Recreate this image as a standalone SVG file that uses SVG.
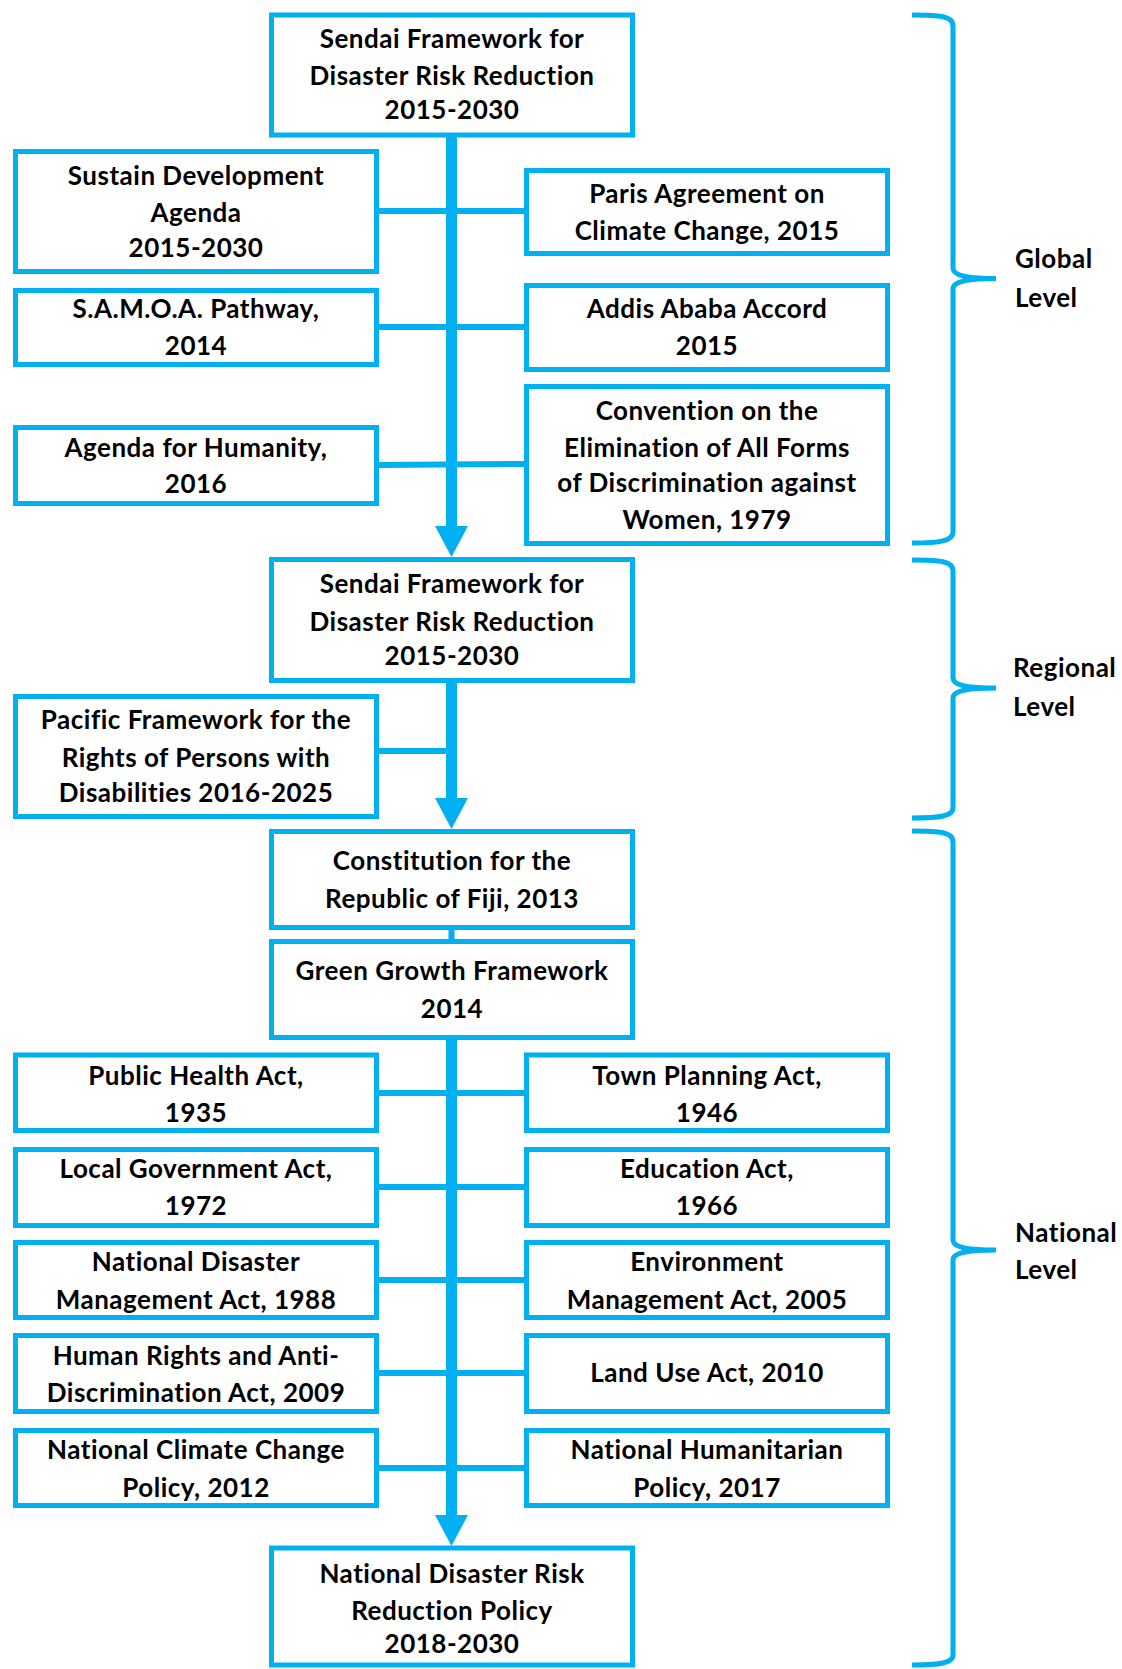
<svg xmlns="http://www.w3.org/2000/svg" width="1122" height="1669" viewBox="0 0 1122 1669">
<style>
.box{fill:#fff;stroke:#00B0F0;stroke-width:5}
.t{font-family:Lato,"Liberation Sans",sans-serif;font-weight:bold;font-size:26px;letter-spacing:0.5px;fill:#000;text-anchor:middle}
.lv{font-family:Lato,"Liberation Sans",sans-serif;font-weight:bold;font-size:26px;letter-spacing:0.5px;fill:#000}
.ln{stroke:#00B0F0;stroke-width:6;fill:none}
.tr{stroke:#00B0F0;stroke-width:11;fill:none}
.hd{fill:#00B0F0}
.br{stroke:#00B0F0;stroke-width:5;fill:none}
</style>
<rect width="1122" height="1669" fill="#fff"/>
<g id="connectors">
<line class="tr" x1="451.5" y1="137" x2="451.5" y2="528"/>
<polygon class="hd" points="435,526 468,526 451.5,557"/>
<line class="tr" x1="451.5" y1="683" x2="451.5" y2="800"/>
<polygon class="hd" points="435,798 468,798 451.5,829"/>
<line class="ln" x1="451.5" y1="930" x2="451.5" y2="939"/>
<line class="tr" x1="451.5" y1="1040" x2="451.5" y2="1517"/>
<polygon class="hd" points="435,1515 468,1515 451.5,1546"/>
<line class="ln" x1="379" y1="211" x2="524" y2="211"/>
<line class="ln" x1="379" y1="327" x2="524" y2="327"/>
<line class="ln" x1="379" y1="465" x2="524" y2="464"/>
<line class="ln" x1="379" y1="751" x2="452" y2="751"/>
<line class="ln" x1="379" y1="1093" x2="524" y2="1093"/>
<line class="ln" x1="379" y1="1187" x2="524" y2="1187"/>
<line class="ln" x1="379" y1="1280" x2="524" y2="1280"/>
<line class="ln" x1="379" y1="1373" x2="524" y2="1373"/>
<line class="ln" x1="379" y1="1468" x2="524" y2="1468"/>
</g>
<g id="sendai-global"><rect class="box" x="271.5" y="15" width="361" height="120"/>
<text class="t" x="452" y="48">Sendai Framework for</text><text class="t" x="452" y="85">Disaster Risk Reduction</text><text class="t" x="452" y="119">2015-2030</text></g>
<g id="sustain"><rect class="box" x="15.5" y="151.5" width="361" height="120"/>
<text class="t" x="196" y="185">Sustain Development</text><text class="t" x="196" y="222">Agenda</text><text class="t" x="196" y="257">2015-2030</text></g>
<g id="paris"><rect class="box" x="526.5" y="170.5" width="361" height="83"/>
<text class="t" x="707" y="203">Paris Agreement on</text><text class="t" x="707" y="240">Climate Change, 2015</text></g>
<g id="samoa"><rect class="box" x="15.5" y="290.5" width="361" height="74"/>
<text class="t" x="196" y="318">S.A.M.O.A. Pathway,</text><text class="t" x="196" y="355">2014</text></g>
<g id="addis"><rect class="box" x="526.5" y="285.5" width="361" height="84"/>
<text class="t" x="707" y="318">Addis Ababa Accord</text><text class="t" x="707" y="355">2015</text></g>
<g id="humanity"><rect class="box" x="15.5" y="427.5" width="361" height="76"/>
<text class="t" x="196" y="457">Agenda for Humanity,</text><text class="t" x="196" y="493">2016</text></g>
<g id="cedaw"><rect class="box" x="526.5" y="386.5" width="361" height="157"/>
<text class="t" x="707" y="419.5">Convention on the</text><text class="t" x="707" y="456.5">Elimination of All Forms</text><text class="t" x="707" y="492">of Discrimination against</text><text class="t" x="707" y="529">Women, 1979</text></g>
<g id="sendai-regional"><rect class="box" x="271.5" y="559.5" width="361" height="121"/>
<text class="t" x="452" y="593">Sendai Framework for</text><text class="t" x="452" y="631">Disaster Risk Reduction</text><text class="t" x="452" y="665">2015-2030</text></g>
<g id="pacific"><rect class="box" x="15.5" y="696.5" width="361" height="120"/>
<text class="t" x="196" y="729">Pacific Framework for the</text><text class="t" x="196" y="767">Rights of Persons with</text><text class="t" x="196" y="802">Disabilities 2016-2025</text></g>
<g id="constitution"><rect class="box" x="271.5" y="831.5" width="361" height="96"/>
<text class="t" x="452" y="870">Constitution for the</text><text class="t" x="452" y="908">Republic of Fiji, 2013</text></g>
<g id="green"><rect class="box" x="271.5" y="941.5" width="361" height="96"/>
<text class="t" x="452" y="980">Green Growth Framework</text><text class="t" x="452" y="1018">2014</text></g>
<g id="public-health"><rect class="box" x="15.5" y="1055" width="361" height="75.5"/>
<text class="t" x="196" y="1085">Public Health Act,</text><text class="t" x="196" y="1122">1935</text></g>
<g id="town-planning"><rect class="box" x="526.5" y="1055" width="361" height="75.5"/>
<text class="t" x="707" y="1085">Town Planning Act,</text><text class="t" x="707" y="1122">1946</text></g>
<g id="local-gov"><rect class="box" x="15.5" y="1149.5" width="361" height="76"/>
<text class="t" x="196" y="1178">Local Government Act,</text><text class="t" x="196" y="1215">1972</text></g>
<g id="education"><rect class="box" x="526.5" y="1149.5" width="361" height="76"/>
<text class="t" x="707" y="1178">Education Act,</text><text class="t" x="707" y="1215">1966</text></g>
<g id="nat-disaster"><rect class="box" x="15.5" y="1242.5" width="361" height="75"/>
<text class="t" x="196" y="1271">National Disaster</text><text class="t" x="196" y="1308.5">Management Act, 1988</text></g>
<g id="environment"><rect class="box" x="526.5" y="1242.5" width="361" height="75"/>
<text class="t" x="707" y="1271">Environment</text><text class="t" x="707" y="1308.5">Management Act, 2005</text></g>
<g id="human-rights"><rect class="box" x="15.5" y="1335.5" width="361" height="76"/>
<text class="t" x="196" y="1364.5">Human Rights and Anti-</text><text class="t" x="196" y="1402">Discrimination Act, 2009</text></g>
<g id="land-use"><rect class="box" x="526.5" y="1335.5" width="361" height="76"/>
<text class="t" x="707" y="1382">Land Use Act, 2010</text></g>
<g id="climate-policy"><rect class="box" x="15.5" y="1430.5" width="361" height="75"/>
<text class="t" x="196" y="1459">National Climate Change</text><text class="t" x="196" y="1496.5">Policy, 2012</text></g>
<g id="humanitarian-policy"><rect class="box" x="526.5" y="1430.5" width="361" height="75"/>
<text class="t" x="707" y="1459">National Humanitarian</text><text class="t" x="707" y="1496.5">Policy, 2017</text></g>
<g id="ndrr"><rect class="box" x="271.5" y="1548" width="361" height="117"/>
<text class="t" x="452" y="1582.5">National Disaster Risk</text><text class="t" x="452" y="1619.5">Reduction Policy</text><text class="t" x="452" y="1653">2018-2030</text></g>
<g id="global-level">
<path class="br" d="M912,15 C940,15 953,16 953,26 L953,268 C953,275 965,278.5 996,278.5 C965,278.5 953,282 953,289 L953,532 C953,541 940,543 912,543"/>
<text class="lv" x="1015" y="268">Global</text><text class="lv" x="1015" y="307">Level</text></g>
<g id="regional-level">
<path class="br" d="M912,560 C940,560 953,561 953,571 L953,678 C953,685 965,688 996,688 C965,688 953,691 953,698 L953,808 C953,816 940,818 912,818"/>
<text class="lv" x="1013" y="677">Regional</text><text class="lv" x="1013" y="716">Level</text></g>
<g id="national-level">
<path class="br" d="M912,831 C940,831 953,832 953,842 L953,1240 C953,1247 965,1250 996,1250 C965,1250 953,1253 953,1260 L953,1655 C953,1663 940,1665 912,1665"/>
<text class="lv" x="1015" y="1241.5">National</text><text class="lv" x="1015" y="1279">Level</text></g>
</svg>
